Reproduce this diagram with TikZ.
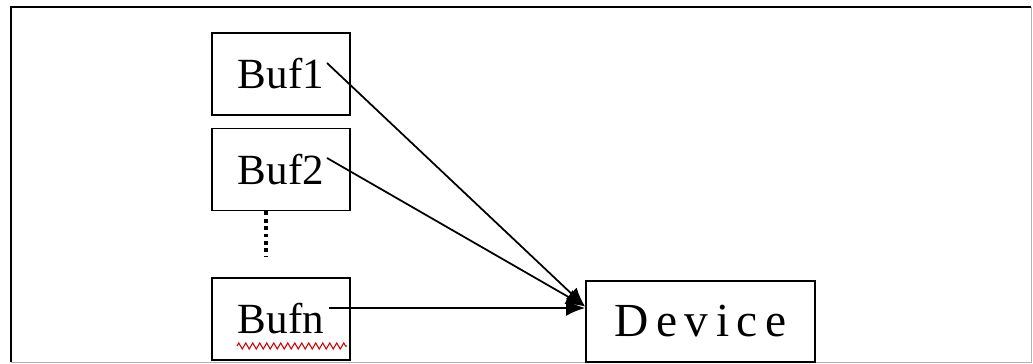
\documentclass[tikz,border=0pt]{standalone}
\usepackage{fontspec}
\setmainfont{Liberation Serif}
\usetikzlibrary{arrows.meta,decorations.pathmorphing}

\begin{document}
\begin{tikzpicture}[
	bufbox/.style={draw, rectangle, line width=1.1pt, minimum height=1.64cm, minimum width=2.76cm, text centered, font=\fontsize{24.5}{28}\selectfont},
	feed/.style={-{Latex[length=3.8mm,width=3.2mm]}, line width=1pt}]
			
			\useasboundingbox (0,0) rectangle (20.66,-7.28);
			
			%Outer frame
			\draw[line width=0.5pt, draw=gray!60] (0.22,-7.24) -- (20.62,-7.24) -- (20.62,-0.14);
			\draw[line width=1.4pt] (0.22,-7.24) -- (0.22,-0.14) -- (20.62,-0.14);
			
			%Buffers
			\node (buf1) at (5.62,-1.48) [bufbox]{Buf1};
			\node (buf2) at (5.62,-3.39) [bufbox]{Buf2};
			\node (bufn) at (5.62,-6.38) [bufbox]{Bufn};
			
			%Dots between the buffers
			\draw[dotted, line width=2.2pt] ([xshift=-0.3cm]buf2.south) -- ([xshift=-0.3cm, yshift=0.42cm]bufn.north);
			
			%Spelling underline
			\draw[red!80!black, line width=0.6pt, decorate, decoration={zigzag, amplitude=0.06cm, segment length=0.14cm}] (4.74,-6.92) -- (6.94,-6.92);
			
			%Device
			\node (device) at (14.01,-6.43) [draw, rectangle, line width=1.1pt, minimum height=1.62cm, minimum width=4.58cm, text centered, font=\fontsize{27}{30}\selectfont\addfontfeature{LetterSpace=16}]{Device};
			
			%Arrows into the device
			\coordinate (s1) at (6.54,-1.26);
			\coordinate (s2) at (6.54,-3.16);
			\coordinate (sn) at (6.58,-6.16);
			\draw[feed] (s1) -- ([yshift=0.3cm]device.west);
			\draw[feed] (s2) -- ([yshift=0.3cm]device.west);
			\draw[feed] (sn) -- ([yshift=0.27cm]device.west);
			
\end{tikzpicture}
\end{document}
